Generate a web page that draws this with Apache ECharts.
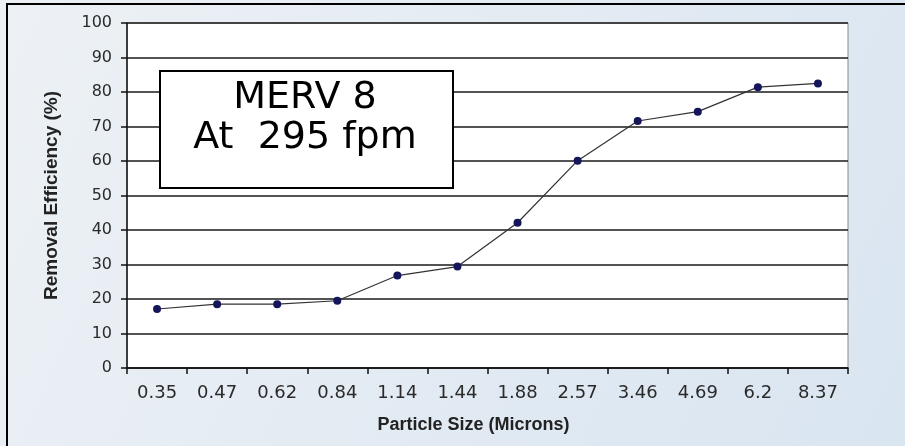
<!DOCTYPE html>
<html>
<head>
<meta charset="utf-8">
<script src="https://cdn.jsdelivr.net/npm/echarts@6/dist/echarts.min.js"></script>
<style>
html,body{margin:0;padding:0;}
#chart{width:905px;height:446px;}
</style>
</head>
<body>
<div id="chart"></div>
<script>
const categories = ['0.35','0.47','0.62','0.84','1.14','1.44','1.88','2.57','3.46','4.69','6.2','8.37'];
const efficiency = [17.1, 18.5, 18.5, 19.5, 26.8, 29.4, 42.1, 60.1, 71.6, 74.3, 81.4, 82.5];
const yTicks = {min: 0, max: 100, interval: 10};
const xAxisTitle = 'Particle Size (Microns)';
const yAxisTitle = 'Removal Efficiency (%)';
const boxLines = ['MERV 8', 'At  295 fpm'];

const chart = echarts.init(document.getElementById('chart'), null, {renderer: 'canvas'});
chart.setOption({
  animation: false,
  backgroundColor: {
    type: 'linear', x: 0, y: 0, x2: 1, y2: 1,
    colorStops: [{offset: 0, color: '#edf1f5'}, {offset: 1, color: '#d9e5f1'}]
  },
  grid: {left: 127, right: 57, top: 23, bottom: 78, show: true, backgroundColor: '#ffffff', borderColor: '#8a8a8a', borderWidth: 1},
  xAxis: {
    type: 'category',
    data: categories,
    boundaryGap: true,
    axisLine: {show: true, lineStyle: {color: '#111', width: 1.5}},
    axisTick: {show: true, inside: false, length: 6, alignWithLabel: false, lineStyle: {color: '#111', width: 1.5}},
    axisLabel: {margin: 16, color: '#2a2a2a', fontFamily: 'DejaVu Sans', fontSize: 18},
    splitLine: {show: false},
    name: xAxisTitle,
    nameLocation: 'middle',
    nameGap: 48,
    nameTextStyle: {color: '#222', fontFamily: 'Liberation Sans', fontWeight: 'bold', fontSize: 18, padding: [0, 28, 0, 0]}
  },
  yAxis: {
    type: 'value',
    min: yTicks.min, max: yTicks.max, interval: yTicks.interval,
    axisLine: {show: true, lineStyle: {color: '#111', width: 1.5}},
    axisTick: {show: true, inside: false, length: 6, lineStyle: {color: '#111', width: 1.5}},
    axisLabel: {margin: 15, color: '#2a2a2a', fontFamily: 'DejaVu Sans', fontSize: 16},
    splitLine: {show: true, lineStyle: {color: '#1a1a1a', width: 1.5}},
    name: yAxisTitle,
    nameLocation: 'middle',
    nameGap: 66,
    nameTextStyle: {color: '#222', fontFamily: 'Liberation Sans', fontWeight: 'bold', fontSize: 19}
  },
  series: [{
    type: 'line',
    data: efficiency,
    symbol: 'circle',
    symbolSize: 8,
    itemStyle: {color: '#15155a'},
    lineStyle: {color: '#333', width: 1.2},
    z: 3
  }],
  graphic: [
    {type: 'rect', left: 6, top: 3, shape: {width: 1000, height: 1000}, style: {fill: 'transparent', stroke: '#000', lineWidth: 2}, z: 100, silent: true},
    {type: 'rect', left: 159, top: 70, shape: {width: 293, height: 117}, style: {fill: '#ffffff', stroke: '#000', lineWidth: 2}, z: 50},
    {type: 'text', x: 305, y: 98, style: {text: boxLines[0], fill: '#000', font: '38px "DejaVu Sans"', textAlign: 'center', textVerticalAlign: 'middle'}, z: 51},
    {type: 'text', x: 305, y: 138, style: {text: boxLines[1], fill: '#000', font: '38px "DejaVu Sans"', textAlign: 'center', textVerticalAlign: 'middle'}, z: 51}
  ]
});
</script>
</body>
</html>
